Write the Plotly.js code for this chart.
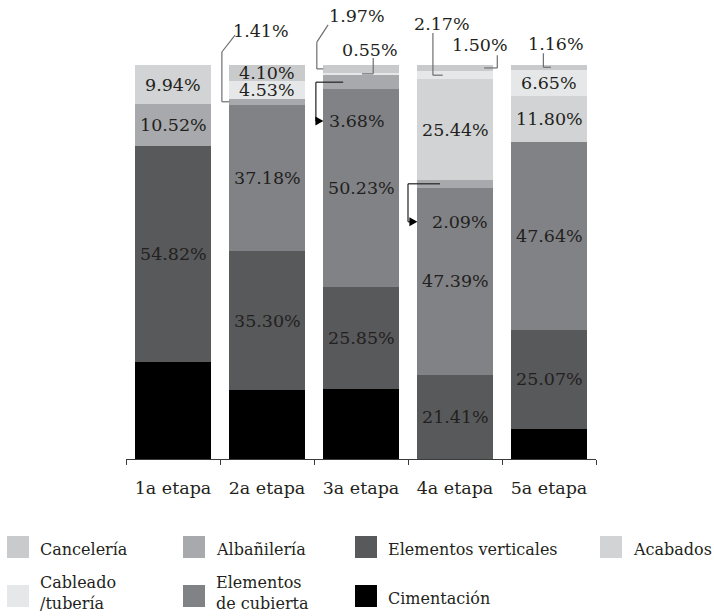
<!DOCTYPE html>
<html><head><meta charset="utf-8">
<script src="https://cdn.plot.ly/plotly-3.0.1.min.js"></script>
<style>html,body{margin:0;padding:0;background:#fff}#chart{width:714px;height:616px}</style>
</head><body><div id="chart"></div>
<script>
// ---- data (percent of each stage) ----
const stages = ['1a etapa', '2a etapa', '3a etapa', '4a etapa', '5a etapa'];
const cimentacion         = [24.72, 17.48, 17.72, 0,     7.68];
const elementosVerticales = [54.82, 35.30, 25.85, 21.41, 25.07];
const elementosCubierta   = [0,     37.18, 50.23, 47.39, 47.64];
const albanileria         = [10.52, 1.41,  3.68,  2.09,  0];
const acabados            = [9.94,  0,     0,     25.44, 11.80];
const cableado            = [0,     4.53,  0.55,  2.17,  6.65];
const canceleria          = [0,     4.10,  1.97,  1.50,  1.16];

// stack order bottom -> top
const seriesNames  = ['Cimentación', 'Elementos verticales', 'Elementos de cubierta', 'Albañilería', 'Acabados', 'Cableado /tubería', 'Cancelería'];
const seriesValues = [cimentacion, elementosVerticales, elementosCubierta, albanileria, acabados, cableado, canceleria];
const seriesColors = ['#000000', '#58595b', '#808285', '#a7a9ac', '#d1d3d4', '#e6e7e8', '#c9cacc'];
const labelled     = [false, true, true, true, true, true, true];

// ---- geometry ----
const W = 714, H = 616, ML = 126, MR = 118, MT = 65, MB = 157;
const PW = W - ML - MR, PH = H - MT - MB;
const N = stages.length;
const xd = x => (x + 0.5) / N;          // category coordinate -> paper
const yd = v => v / 100;                 // percent -> paper
const pxX = px => (px - ML) / PW;        // pixel -> paper
const pxY = py => (MT + PH - py) / PH;

const FONT = 'DejaVu Serif';
const TXT = '#231f20';
const PCT_SIZE = 17.5, TICK_SIZE = 17.5, LEG_SIZE = 16;

const traces = seriesNames.map((name, s) => ({
  type: 'bar', name: name, x: stages, y: seriesValues[s],
  marker: {color: seriesColors[s], line: {width: 0}},
  hoverinfo: 'x+y+name', showlegend: false
}));

// leader / arrow placement for small segments (offsets in category units, y in %; null = segment centre)
const leaders = {
  '1-3': {label: [-0.06, 108.6], path: [[-0.34, 107.6], [-0.48, 103.3], [-0.48, null], [-0.4, null]]},
  '2-6': {label: [-0.04, 112.4], path: [[-0.35, 110.2], [-0.47, 105.8], [-0.47, null], [-0.4, null]]},
  '2-5': {label: [0.10, 103.8], path: [[0.13, 101.8], [0.13, null], [0.01, null]]},
  '2-3': {label: [-0.04, 85.8], arrow: true, path: [[-0.19, null], [-0.48, null], [-0.48, 85.8], [-0.44, 85.8]], head: [-0.4, 85.8]},
  '3-5': {label: [-0.14, 110.4], path: [[-0.235, 108.1], [-0.235, null], [-0.13, null]]},
  '3-6': {label: [0.27, 105.1], path: [[0.45, 102.5], [0.45, null], [0.31, null]]},
  '3-3': {label: [0.05, 60.2], arrow: true, path: [[-0.16, null], [-0.5, null], [-0.5, 60.2], [-0.46, 60.2]], head: [-0.4, 60.2]},
  '4-6': {label: [0.07, 105.3], path: [[-0.06, 103.0], [-0.06, null], [0.02, null]]}
};

const annotations = [];
const shapes = [];
const base = stages.map(() => 0);
seriesValues.forEach((vals, s) => {
  vals.forEach((v, i) => {
    const b = base[i];
    base[i] += v;
    if (!labelled[s] || v <= 0) return;
    const centre = b + v / 2;
    const text = v.toFixed(2) + '%';
    const spec = leaders[i + '-' + s];
    if (!spec) {
      annotations.push({xref: 'paper', yref: 'paper', x: xd(i), y: yd(centre), text: text, showarrow: false,
        xanchor: 'center', yanchor: 'middle', font: {family: FONT, size: PCT_SIZE, color: TXT}});
      return;
    }
    annotations.push({xref: 'paper', yref: 'paper', x: xd(i + spec.label[0]), y: yd(spec.label[1]), text: text, showarrow: false,
      xanchor: 'center', yanchor: 'middle', font: {family: FONT, size: PCT_SIZE, color: TXT}});
    const pts = spec.path.map(p => [xd(i + p[0]), yd(p[1] === null ? centre : p[1])]);
    const col = spec.arrow ? '#231f20' : '#6d6e71';
    for (let k = 0; k < pts.length - 1; k++) {
      shapes.push({type: 'line', xref: 'paper', yref: 'paper', x0: pts[k][0], y0: pts[k][1], x1: pts[k + 1][0], y1: pts[k + 1][1],
        line: {color: col, width: 1.2}});
    }
    if (spec.head) {
      const hx = xd(i + spec.head[0]), hy = yd(spec.head[1]);
      const bx = hx - 8 / PW, dy = 4.5 / PH;
      shapes.push({type: 'path', xref: 'paper', yref: 'paper',
        path: `M${hx},${hy} L${bx},${hy + dy} L${bx},${hy - dy} Z`, fillcolor: '#000', line: {width: 0}});
    }
  });
});

// ---- manual legend ----
const legendOrder = [
  {s: 6, col: 0, row: 0}, {s: 3, col: 1, row: 0}, {s: 1, col: 2, row: 0}, {s: 4, col: 3, row: 0},
  {s: 5, col: 0, row: 1}, {s: 2, col: 1, row: 1}, {s: 0, col: 2, row: 1}
];
const colSquareX = [7, 183, 355, 600];
const rowSquareY = [536, 585];
const SQ = 22;
legendOrder.forEach(item => {
  const sx = colSquareX[item.col], sy = rowSquareY[item.row];
  shapes.push({type: 'rect', xref: 'paper', yref: 'paper', x0: pxX(sx), x1: pxX(sx + SQ), y0: pxY(sy), y1: pxY(sy + SQ),
    fillcolor: seriesColors[item.s], line: {width: 0}});
  const name = seriesNames[item.s];
  const multi = name === 'Cableado /tubería' || name === 'Elementos de cubierta';
  const text = name === 'Cableado /tubería' ? 'Cableado<br>/tubería' :
               name === 'Elementos de cubierta' ? 'Elementos<br>de cubierta' : name;
  annotations.push({xref: 'paper', yref: 'paper', x: pxX(sx + SQ + 9), y: pxY(multi ? 593 : sy + SQ / 2 + 2), text: text, showarrow: false,
    xanchor: 'left', yanchor: 'middle', align: 'left', font: {family: FONT, size: LEG_SIZE, color: TXT}});
});

const layout = {
  width: W, height: H,
  margin: {l: ML, r: MR, t: MT, b: MB, pad: 0},
  paper_bgcolor: '#fff', plot_bgcolor: '#fff',
  barmode: 'stack', bargap: 0.2,
  showlegend: false,
  font: {family: FONT, color: TXT},
  xaxis: {type: 'category', range: [-0.5, N - 0.5], showline: true, linecolor: '#3a3a3a', linewidth: 1,
    ticks: 'outside', tickson: 'boundaries', ticklen: 5, tickcolor: '#3a3a3a', tickwidth: 1,
    tickfont: {family: FONT, size: TICK_SIZE, color: TXT}, ticklabelstandoff: 13, showgrid: false, zeroline: false, fixedrange: true},
  yaxis: {range: [0, 100], visible: false, showgrid: false, zeroline: false, fixedrange: true},
  annotations: annotations, shapes: shapes
};

Plotly.newPlot('chart', traces, layout, {displayModeBar: false, staticPlot: true});
</script>
</body></html>
